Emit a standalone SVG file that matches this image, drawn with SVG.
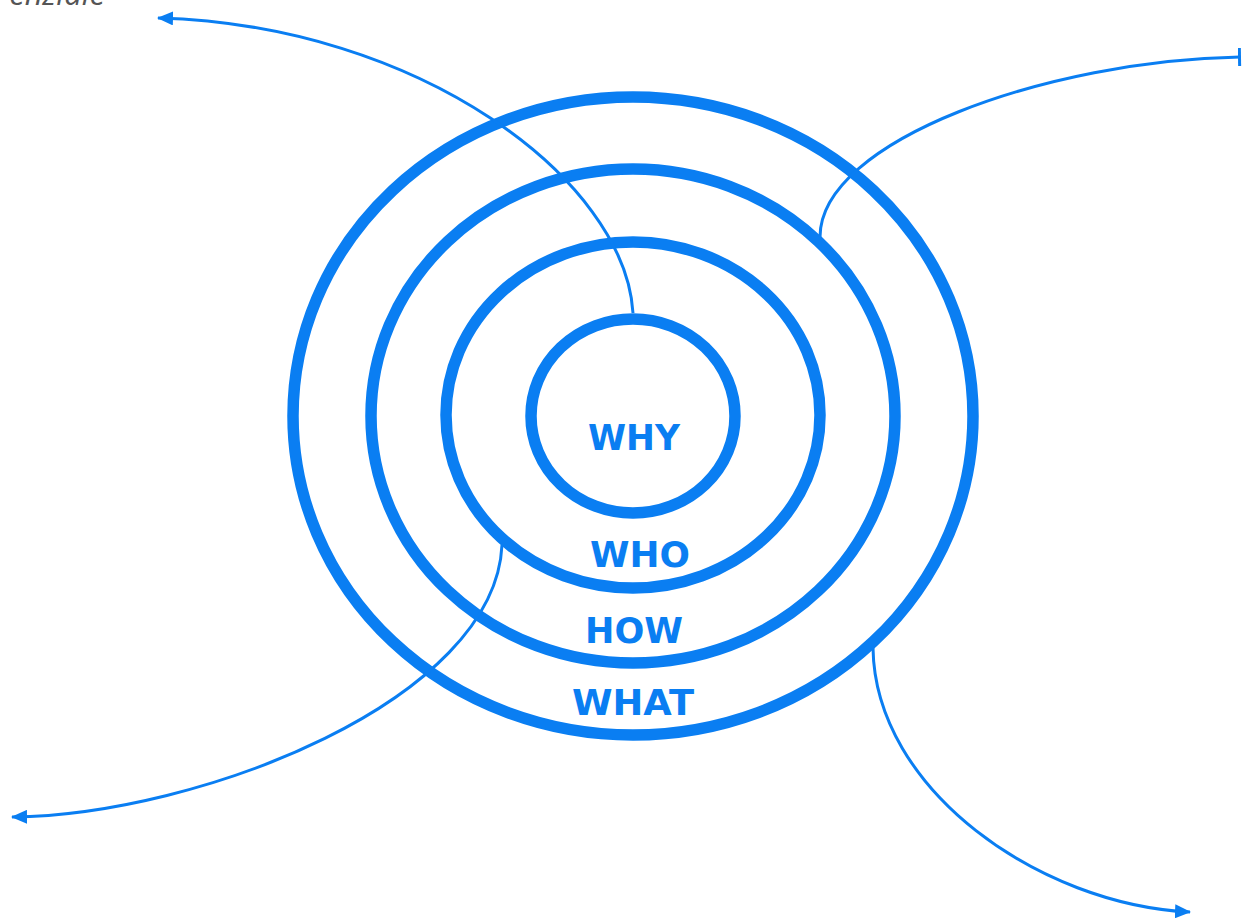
<svg xmlns="http://www.w3.org/2000/svg" width="1242" height="919" viewBox="0 0 1242 919">
<style>
.ring{fill:none;stroke:#0A7EF2;stroke-width:11.5}
.conn{fill:none;stroke:#0A7EF2;stroke-width:3}
.lbl{fill:#0A7EF2;font-family:"Comic Sans MS","DejaVu Sans",sans-serif;font-weight:bold;font-size:36px;text-anchor:middle}
.note{fill:#555;font-family:"Open Sans",sans-serif;font-style:italic;font-size:31px;text-anchor:end}
</style>
<defs>
<marker id="arr" viewBox="0 0 16 14" refX="15" refY="7" markerWidth="16" markerHeight="14" markerUnits="userSpaceOnUse" orient="auto">
<path d="M0,0 L16,7 L0,14 Z" fill="#0A7EF2"/>
</marker>
<marker id="tee" viewBox="0 0 4 18" refX="2" refY="9" markerWidth="4" markerHeight="18" markerUnits="userSpaceOnUse" orient="auto">
<rect x="0" y="0" width="3" height="18" fill="#0A7EF2"/>
</marker>
</defs>
<rect width="1242" height="919" fill="#fff"/>
<text class="note" x="105" y="5">enziale</text>
<g id="what"><ellipse class="ring" cx="633" cy="416" rx="340" ry="319"/><text class="lbl" x="633" y="715" textLength="122" lengthAdjust="spacingAndGlyphs">WHAT</text></g>
<g id="how"><ellipse class="ring" cx="633" cy="416" rx="262" ry="247"/><text class="lbl" x="634" y="643" textLength="98" lengthAdjust="spacingAndGlyphs">HOW</text></g>
<g id="who"><ellipse class="ring" cx="633" cy="415" rx="187" ry="173"/><text class="lbl" x="640" y="567" textLength="100" lengthAdjust="spacingAndGlyphs">WHO</text></g>
<g id="why"><ellipse class="ring" cx="633" cy="416" rx="102" ry="97"/><text class="lbl" x="634" y="450" textLength="92" lengthAdjust="spacingAndGlyphs">WHY</text></g>
<g id="connectors">
<path class="conn" d="M633,313 C625,180 420,25 158,18" marker-end="url(#arr)"/>
<path class="conn" d="M820,237 C820,140 1050,60 1240,57" marker-end="url(#tee)"/>
<path class="conn" d="M502,545 C495,700 200,815 12,817" marker-end="url(#arr)"/>
<path class="conn" d="M873,648 C875,790 1040,905 1190,912" marker-end="url(#arr)"/>
</g>
</svg>
